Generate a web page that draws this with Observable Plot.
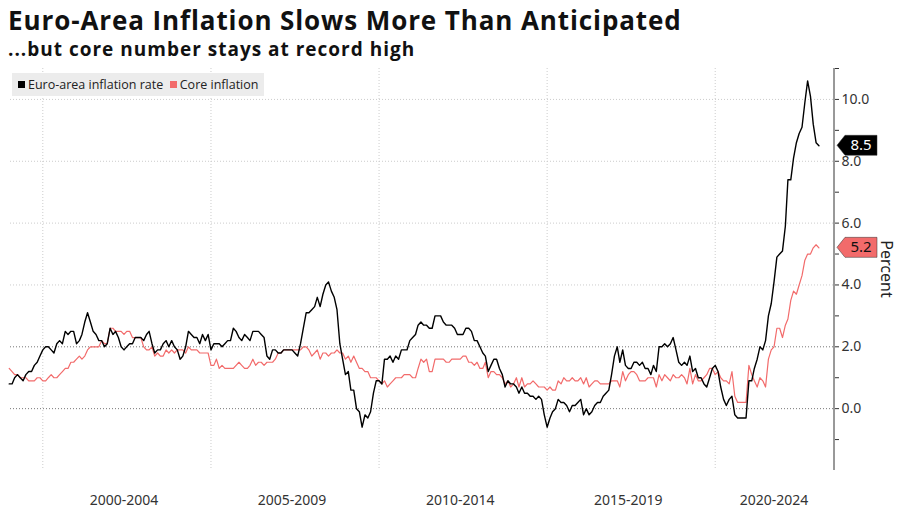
<!DOCTYPE html>
<html><head><meta charset="utf-8">
<script src="https://cdn.jsdelivr.net/npm/d3@7"></script>
<script src="https://cdn.jsdelivr.net/npm/@observablehq/plot@0.6"></script>
<style>
body{margin:0;background:#fff;font-family:"Open Sans","DejaVu Sans",sans-serif;}
#t{position:absolute;left:8px;top:2px;font-size:26px;font-weight:bold;color:#111;letter-spacing:0.9px}
#s{position:absolute;left:8px;top:36px;font-size:19px;font-weight:bold;color:#111;letter-spacing:1px}
#c{position:absolute;left:0;top:63px}
#lg{position:absolute;left:12px;top:73px;background:#ececec;padding:3px 6px;font-size:12.5px;color:#222}
#lg span.k{display:inline-block;width:7px;height:7px;margin-right:3px;vertical-align:1px}
</style></head><body>
<div id="t">Euro-Area Inflation Slows More Than Anticipated</div>
<div id="s">...but core number stays at record high</div>
<div id="c"></div>
<div id="lg"><span class="k" style="background:#000"></span>Euro-area inflation rate&nbsp;&nbsp;<span class="k" style="background:#f26b6b"></span>Core inflation</div>
<script>
const startYear = 1999;
const headline = [
0.8,0.8,1.0,1.1,1.0,0.9,1.1,1.2,1.2,1.4,1.5,1.7,
1.9,2.0,2.0,1.9,1.8,2.1,2.2,2.1,2.5,2.4,2.5,2.5,
2.1,2.2,2.4,2.8,3.1,2.8,2.5,2.4,2.2,2.2,2.0,2.1,
2.6,2.4,2.5,2.3,2.0,1.9,2.0,2.1,2.1,2.3,2.3,2.3,
2.2,2.4,2.5,2.1,1.8,1.9,1.9,2.1,2.2,2.0,2.2,2.0,
1.9,1.6,1.7,2.0,2.5,2.4,2.3,2.3,2.1,2.4,2.2,2.4,
1.9,2.1,2.1,2.1,2.0,2.1,2.2,2.2,2.6,2.5,2.3,2.2,
2.4,2.3,2.2,2.5,2.5,2.5,2.4,2.3,1.7,1.6,1.9,1.9,
1.8,1.8,1.9,1.9,1.9,1.9,1.8,1.7,2.1,2.6,3.1,3.1,
3.2,3.3,3.6,3.3,3.7,4.0,4.1,3.8,3.6,3.2,2.1,1.6,
1.1,1.2,0.6,0.6,0.0,-0.1,-0.6,-0.2,-0.3,-0.1,0.5,0.9,
0.9,0.8,1.6,1.6,1.7,1.5,1.7,1.6,1.9,1.9,1.9,2.2,
2.3,2.4,2.7,2.8,2.7,2.7,2.6,2.6,3.0,3.0,3.0,2.8,
2.7,2.7,2.7,2.6,2.4,2.4,2.4,2.6,2.6,2.5,2.2,2.2,
2.0,1.8,1.7,1.2,1.4,1.6,1.6,1.3,1.1,0.7,0.9,0.8,
0.8,0.7,0.5,0.7,0.5,0.5,0.4,0.4,0.3,0.4,0.3,-0.2,
-0.6,-0.3,-0.1,0.0,0.3,0.2,0.2,0.1,-0.1,0.1,0.1,0.2,
0.3,-0.2,0.0,-0.2,-0.1,0.1,0.2,0.2,0.4,0.5,0.6,1.1,
1.7,2.0,1.5,1.9,1.4,1.3,1.3,1.5,1.5,1.4,1.5,1.3,
1.3,1.1,1.4,1.2,2.0,2.0,2.1,2.0,2.1,2.3,1.9,1.5,
1.4,1.5,1.4,1.7,1.2,1.3,1.0,1.0,0.8,0.7,1.0,1.3,
1.4,1.2,0.7,0.3,0.1,0.3,0.4,-0.2,-0.3,-0.3,-0.3,-0.3,
0.9,0.9,1.3,1.6,2.0,1.9,2.2,3.0,3.4,4.1,4.9,5.0,
5.1,5.9,7.4,7.4,8.1,8.6,8.9,9.1,9.9,10.6,10.1,9.2,
8.6,8.5];
const core = [
1.3,1.2,1.1,1.1,1.0,1.0,1.0,0.9,0.9,0.9,1.0,1.0,
0.9,0.9,1.0,1.1,1.0,1.0,1.1,1.2,1.3,1.3,1.5,1.5,
1.6,1.7,1.6,1.7,1.9,2.0,2.0,2.0,2.0,2.2,2.1,2.1,
2.6,2.6,2.5,2.5,2.5,2.4,2.5,2.5,2.3,2.3,2.3,2.3,
2.0,1.9,1.9,2.0,1.7,1.8,1.7,1.7,1.9,1.8,1.9,1.8,
1.9,1.9,1.9,1.8,2.0,1.9,1.9,1.9,1.8,1.8,1.8,1.8,
1.4,1.4,1.6,1.3,1.4,1.3,1.3,1.3,1.3,1.4,1.5,1.4,
1.3,1.3,1.4,1.6,1.4,1.5,1.5,1.4,1.5,1.5,1.5,1.6,
1.8,1.8,1.9,1.9,1.9,1.9,1.9,1.9,1.9,2.0,2.0,1.9,
1.7,1.8,1.9,1.6,1.8,1.8,1.7,1.8,1.8,1.9,1.8,1.8,
1.6,1.7,1.5,1.7,1.5,1.3,1.3,1.2,1.2,1.0,1.0,1.0,
0.9,0.8,0.9,0.7,0.8,0.9,1.0,1.0,1.0,1.1,1.1,1.1,
1.0,1.0,1.3,1.6,1.5,1.6,1.2,1.2,1.6,1.6,1.6,1.6,
1.5,1.5,1.6,1.6,1.6,1.6,1.7,1.7,1.5,1.5,1.4,1.5,
1.3,1.3,1.5,1.0,1.2,1.2,1.1,1.1,1.0,0.8,0.9,0.7,
0.8,1.0,0.7,1.0,0.7,0.8,0.8,0.9,0.8,0.7,0.7,0.7,
0.6,0.7,0.6,0.6,0.9,0.8,1.0,0.9,0.9,1.0,0.9,0.9,
1.0,0.8,1.0,0.7,0.8,0.9,0.9,0.8,0.8,0.8,0.8,0.9,
0.9,0.9,0.7,1.2,0.9,1.1,1.2,1.2,1.1,0.9,0.9,0.9,
1.0,1.0,1.0,0.7,1.1,0.9,1.1,1.0,0.9,1.1,1.0,1.0,
1.1,1.0,0.8,1.3,0.8,1.1,0.9,0.9,1.0,1.1,1.3,1.3,
1.1,1.2,1.0,0.9,0.9,0.8,1.2,0.4,0.2,0.2,0.2,0.2,
1.4,1.1,0.9,0.7,1.0,0.9,0.7,1.6,1.9,2.0,2.6,2.6,
2.3,2.7,2.9,3.5,3.8,3.7,4.0,4.3,4.8,5.0,5.0,5.2,
5.3,5.2];
const periodLabels = ["2000-2004","2005-2009","2010-2014","2015-2019","2020-2024"];
const periodStarts = [2000,2005,2010,2015,2020];
const endLabels = ["8.5","5.2"];

const d = (i) => new Date(startYear + Math.floor(i/12), i%12, 1);
const H = headline.map((v,i)=>({date:d(i),v}));
const C = core.map((v,i)=>({date:d(i),v}));
const gridYears = periodStarts.map(y=>new Date(y,0,1));
const labelPos = periodStarts.map((y,i)=>({date: y===2020 ? new Date(2021,9,1) : new Date(y+2,5,1),t:periodLabels[i]}));

const plot = Plot.plot({
  width:900, height:447,
  marginLeft:10, marginRight:66, marginTop:5, marginBottom:40,
  x:{type:"time", domain:[new Date(1999,0,15), new Date(2023,6,20)], axis:null},
  y:{domain:[-2,11], axis:null},
  marks:[
    Plot.ruleY([4,6,8,10],{stroke:"#ccc",strokeDasharray:"1,2"}),
    Plot.ruleY([0,2],{stroke:"#777",strokeDasharray:"1,2"}),
    Plot.ruleX(gridYears,{stroke:"#ccc",strokeDasharray:"1,2"}),
    Plot.line(C,{x:"date",y:"v",stroke:"#f26b6b",strokeWidth:1.2}),
    Plot.line(H,{x:"date",y:"v",stroke:"#000",strokeWidth:1.4}),
    Plot.axisY({anchor:"right",ticks:[0,2,4,6,8,10],tickFormat:d3.format(".1f"),fontSize:14,tickSize:4,tickPadding:3,label:null,color:"#333"}),
    Plot.axisY({anchor:"right",ticks:[-1,1,3,5,7,9,11],tickFormat:()=>"" ,tickSize:4,label:null,color:"#333"}),
    Plot.text(labelPos,{x:"date",y:-2,text:"t",dy:30,fontSize:14,fill:"#333"})
  ]
});
document.getElementById("c").appendChild(plot);
const svg = d3.select(plot);
const ys = plot.scale("y");
const xr = 834;
svg.append("line").attr("x1",xr).attr("x2",xr).attr("y1",ys.apply(11)).attr("y2",ys.apply(-2)).attr("stroke","#333");
[[headline[headline.length-1],"#000","#fff",endLabels[0]],[core[core.length-1],"#f26b6b","#111",endLabels[1]]].forEach(([v,bg,fg,t])=>{
  const y = ys.apply(v);
  const x0 = xr+3;
  svg.append("path").attr("d",`M${x0},${y} L${x0+8},${y-10} L${x0+40},${y-10} L${x0+40},${y+10} L${x0+8},${y+10} Z`).attr("fill",bg).attr("stroke","#333").attr("stroke-width",0.5);
  svg.append("text").attr("x",x0+24).attr("y",y+5).attr("text-anchor","middle").attr("font-size",15).attr("fill",fg).text(t);
});
svg.append("text").attr("transform",`translate(881,${ys.apply(4.5)}) rotate(90)`).attr("text-anchor","middle").attr("font-size",16).attr("fill","#222").text("Percent");
</script>
</body></html>
